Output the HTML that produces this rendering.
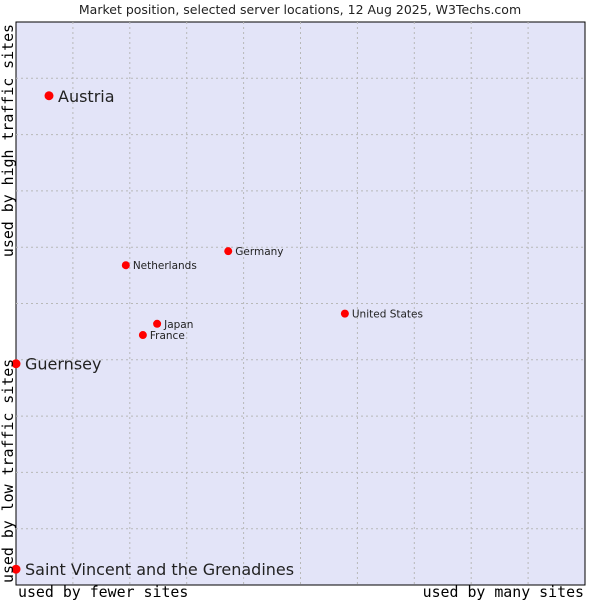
<!DOCTYPE html>
<html><head><meta charset="utf-8"><style>
body{margin:0;background:#fff;width:600px;height:600px;overflow:hidden}
svg{display:block}
</style></head><body>
<svg id="chart" width="600" height="600" xmlns="http://www.w3.org/2000/svg">
<text x="300" y="14" text-anchor="middle" font-family="DejaVu Sans, sans-serif" font-size="12.5" fill="#222">Market position, selected server locations, 12 Aug 2025, W3Techs.com</text>
<rect x="16" y="22" width="569" height="563" fill="#e3e4f8" stroke="#000" stroke-width="1"/>
<g id="grid"></g>
<g id="points"></g>
<text x="18" y="597" font-family="DejaVu Sans Mono, monospace" font-size="14.9" fill="#000">used by fewer sites</text>
<text x="584" y="597" text-anchor="end" font-family="DejaVu Sans Mono, monospace" font-size="14.9" fill="#000">used by many sites</text>
<text transform="translate(13,24) rotate(-90)" text-anchor="end" font-family="DejaVu Sans Mono, monospace" font-size="14.9" fill="#000">used by high traffic sites</text>
<text transform="translate(13,583) rotate(-90)" font-family="DejaVu Sans Mono, monospace" font-size="14.9" fill="#000">used by low traffic sites</text>
</svg>
<script>
const names = ["Austria","Guernsey","Saint Vincent and the Grenadines","Netherlands","Germany","Japan","France","United States"];
const xValues = [5.8,0,0,19.3,37.3,24.8,22.3,57.8];
const yValues = [86.9,39.3,2.8,56.8,59.3,46.4,44.4,48.2];
const bigLabel = [true,true,true,false,false,false,false,false];
const L=16,T=22,W=569,H=563;
const sx=v=>L+v/100*W, sy=v=>T+H-v/100*H;
const NS="http://www.w3.org/2000/svg";
const grid=document.getElementById('grid');
for(let i=1;i<10;i++){
  let l=document.createElementNS(NS,'line');
  
  
  l.setAttribute('x1',sx(i*10));l.setAttribute('x2',sx(i*10));l.setAttribute('y1',T);l.setAttribute('y2',T+H);
  l.setAttribute('stroke','#b8b8b8');l.setAttribute('stroke-dasharray','2,3');grid.appendChild(l);
  let h=document.createElementNS(NS,'line');
  
  
  h.setAttribute('y1',sy(i*10));h.setAttribute('y2',sy(i*10));h.setAttribute('x1',L);h.setAttribute('x2',L+W);
  h.setAttribute('stroke','#b8b8b8');h.setAttribute('stroke-dasharray','2,3');grid.appendChild(h);
}
const pts=document.getElementById('points');
names.forEach((n,i)=>{
  const x=sx(xValues[i]),y=sy(yValues[i]);
  const c=document.createElementNS(NS,'circle');
  
  
  c.setAttribute('cx',x);c.setAttribute('cy',y);c.setAttribute('r',bigLabel[i]?4.5:4);c.setAttribute('fill','#f00');
  pts.appendChild(c);
  const t=document.createElementNS(NS,'text');
  
  
  t.setAttribute('x',x+(bigLabel[i]?9:7));t.setAttribute('y',y+(bigLabel[i]?6:4));
  t.setAttribute('font-family','DejaVu Sans, sans-serif');t.setAttribute('font-size',bigLabel[i]?'16':'10.5');
  t.setAttribute('fill','#222');t.textContent=n;pts.appendChild(t);
});
</script>
</body></html>
